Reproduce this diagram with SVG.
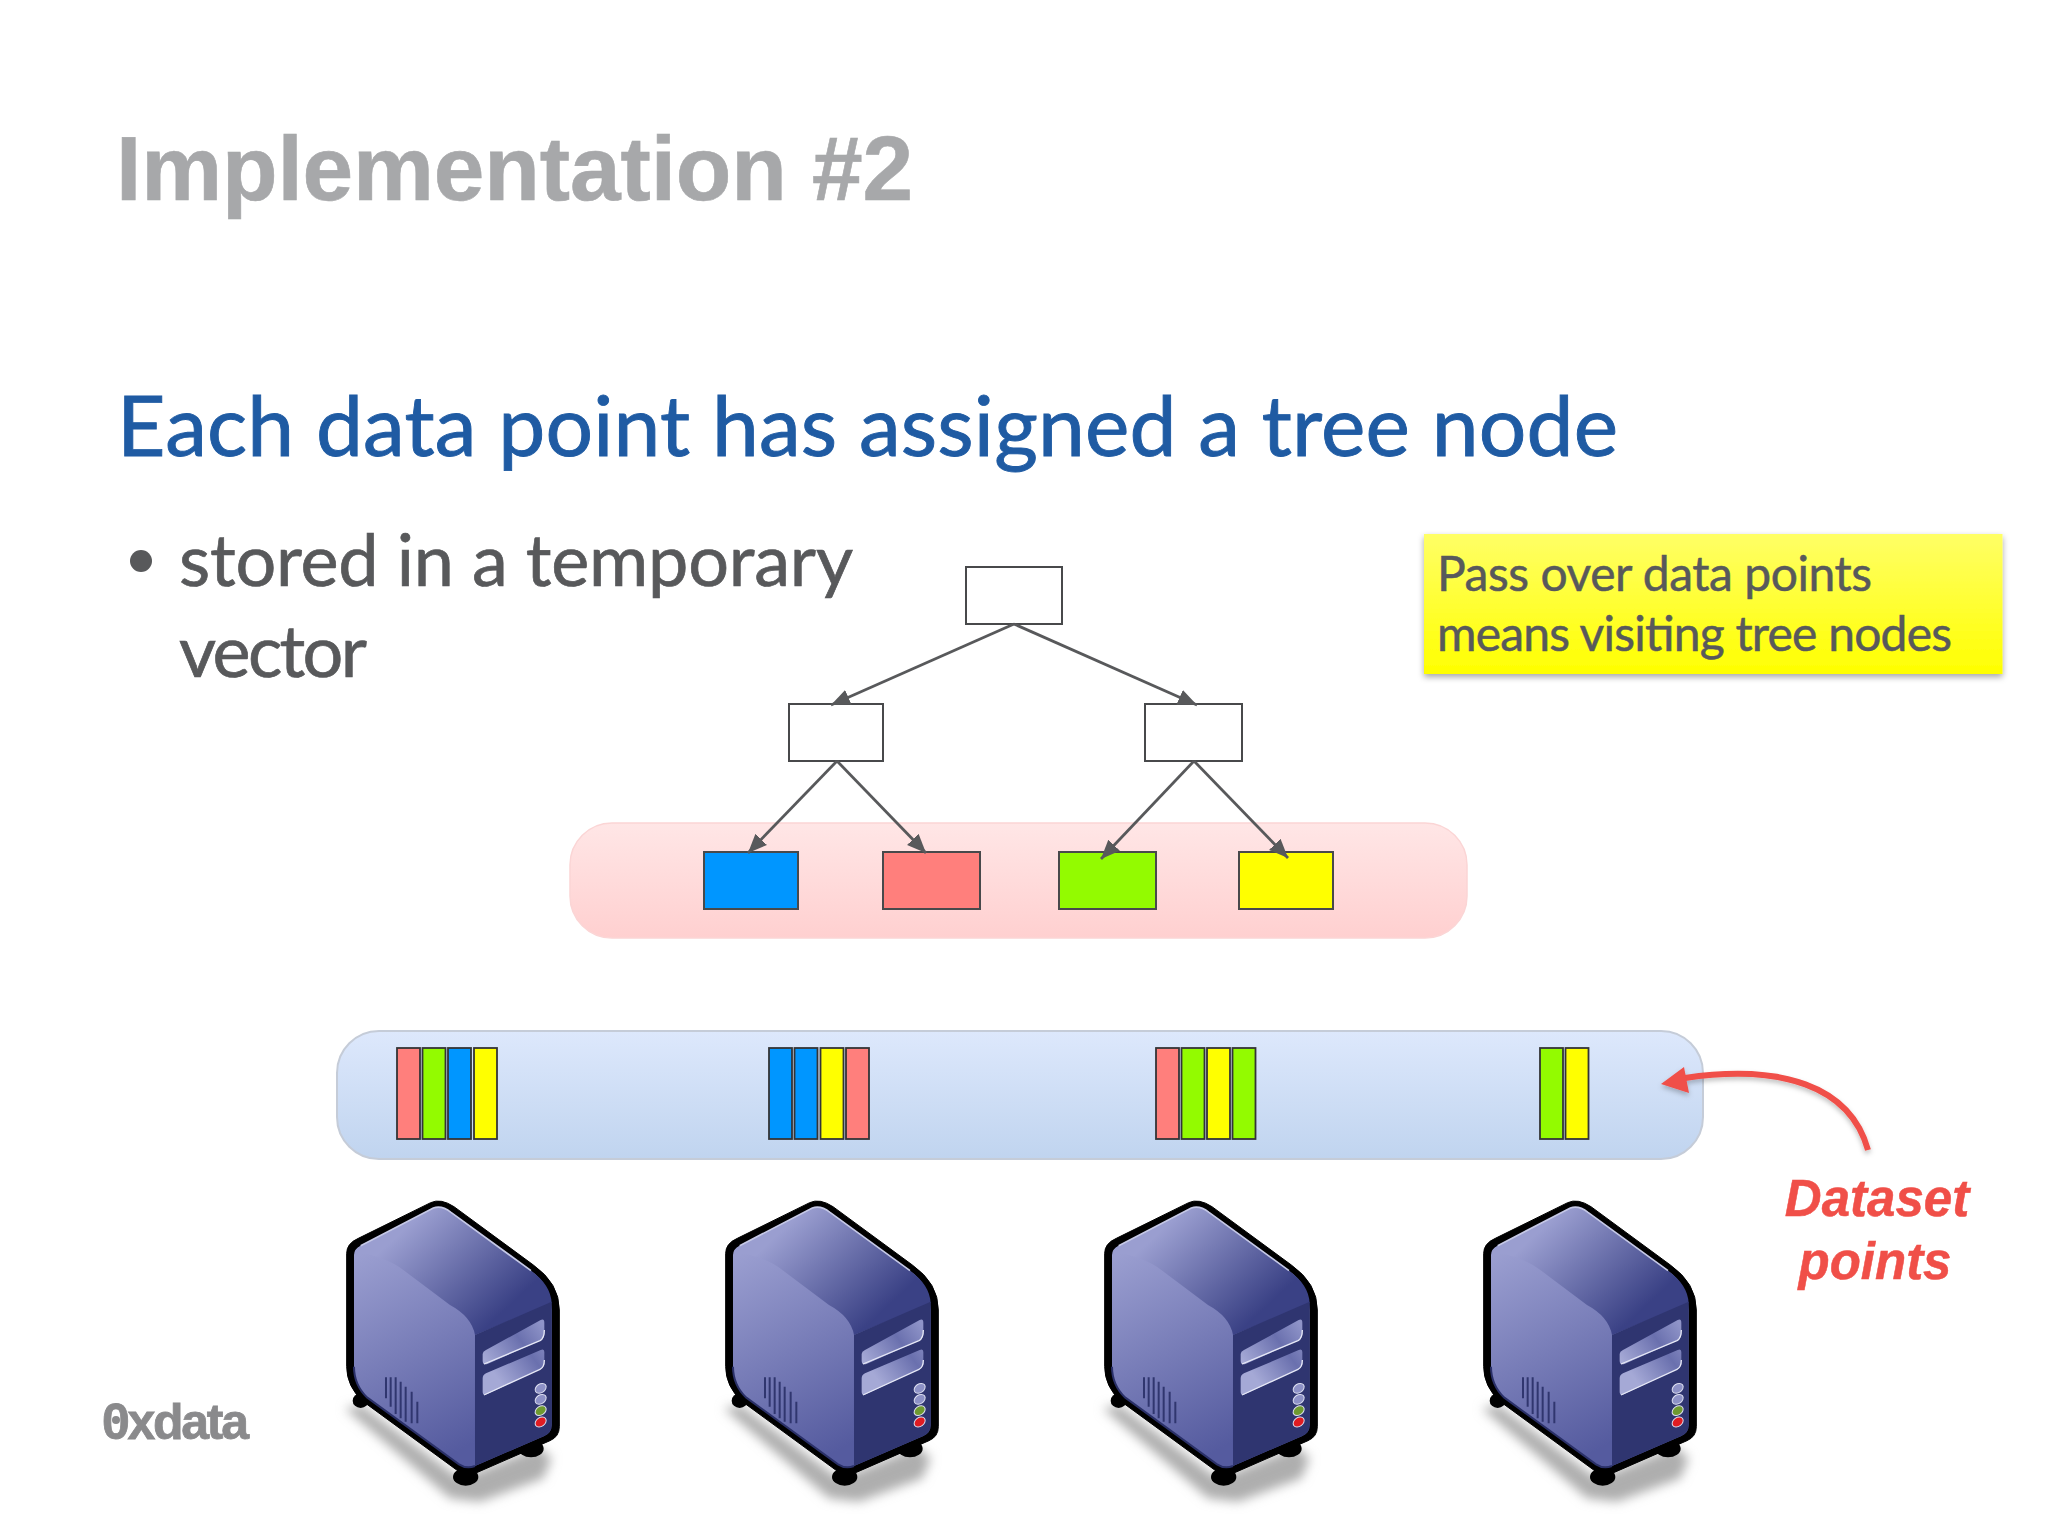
<svg xmlns="http://www.w3.org/2000/svg" xmlns:xlink="http://www.w3.org/1999/xlink" width="2048" height="1536" viewBox="0 0 2048 1536">
<style>
.title{font-family:"Liberation Sans",Arial,sans-serif;font-weight:700;font-size:91px;fill:#a7a8aa;stroke:#a7a8aa;stroke-width:.6}
.fut{font-family:Lato,"Noto Sans",sans-serif}
.head{font-size:84px;fill:#1f5ba3;stroke:#1f5ba3;stroke-width:.9}
.body{font-size:72px;fill:#58595b;stroke:#58595b;stroke-width:.7}
.note{font-size:48px;fill:#58595b;stroke:#58595b;stroke-width:.5}
.red{font-family:"Liberation Sans",Arial,sans-serif;font-weight:700;font-style:italic;font-size:51px;fill:#f04f48;stroke:#f04f48;stroke-width:.5;text-anchor:middle}
.logo{font-family:"Liberation Sans",Arial,sans-serif;font-weight:700;font-size:50px;fill:#8a8a8c;stroke:#8a8a8c;stroke-width:.8}
.box{stroke:#48494b;stroke-width:2}
.bar{stroke:#333436;stroke-width:1.8}
.w{fill:#fff}.b{fill:#0096ff}.r{fill:#ff7f7c}.g{fill:#93fb00}.y{fill:#ffff00}
.edge{stroke:#58595b;stroke-width:2.800;fill:none;marker-end:url(#ah)}
</style>
<defs>
<marker id="ah" markerUnits="userSpaceOnUse" markerWidth="22" markerHeight="20" refX="19" refY="10" orient="auto"><path d="M0 2L19 10L0 18Z" fill="#58595b"/></marker>
<linearGradient id="pink" x1="0" y1="0" x2="0" y2="1"><stop offset="0" stop-color="#ffe6e6"/><stop offset="1" stop-color="#ffd0d0"/></linearGradient>
<linearGradient id="blue" x1="0" y1="0" x2="0" y2="1"><stop offset="0" stop-color="#dde8fc"/><stop offset="1" stop-color="#c0d4ef"/></linearGradient>
<linearGradient id="yel" x1="0" y1="0" x2="0" y2="1"><stop offset="0" stop-color="#ffff66"/><stop offset="1" stop-color="#ffff00"/></linearGradient>
<linearGradient id="sleft" gradientUnits="userSpaceOnUse" x1="170" y1="320" x2="480" y2="900"><stop offset="0" stop-color="#9a9ed0"/><stop offset="1" stop-color="#555b9f"/></linearGradient>
<linearGradient id="stop" gradientUnits="userSpaceOnUse" x1="300" y1="250" x2="560" y2="530"><stop offset="0" stop-color="#9a9ed0"/><stop offset="1" stop-color="#3a4185"/></linearGradient>
<linearGradient id="bay" gradientUnits="userSpaceOnUse" x1="560" y1="640" x2="725" y2="520"><stop offset="0" stop-color="#a5a9d6"/><stop offset="0.6" stop-color="#6a70ae"/><stop offset="1" stop-color="#8f94c8"/></linearGradient>
<filter id="soft" x="-20%" y="-20%" width="140%" height="140%"><feGaussianBlur stdDeviation="16"/></filter>
<filter id="drop" x="-5%" y="-10%" width="110%" height="125%"><feDropShadow dx="0" dy="3" stdDeviation="3" flood-color="#000" flood-opacity="0.35"/></filter>
<filter id="adrop" x="-10%" y="-10%" width="120%" height="130%"><feDropShadow dx="0" dy="3" stdDeviation="2.500" flood-color="#000" flood-opacity="0.25"/></filter>
<g id="server">
<path d="M135 775L185 765L480 985L715 890L755 925L730 985L540 1055L450 1045Z" fill="#aeaeae" filter="url(#soft)"/>
<ellipse cx="182" cy="752" rx="24" ry="22" fill="#000"/>
<ellipse cx="497" cy="981" rx="38" ry="26" fill="#000"/>
<ellipse cx="693" cy="896" rx="38" ry="26" fill="#000"/>
<path d="M392 158Q422 144 462 170L700 345Q778 400 778 480L778 830Q778 860 750 872L530 968Q500 980 470 960L190 755Q140 710 140 650L140 310Q140 280 175 265Z" fill="#000" stroke="#000" stroke-width="3"/>
<path d="M400 174Q425 165 453 187L693 362Q753 405 755 480L755 825Q755 848 733 858L525 948Q500 958 477 943L202 743Q162 705 162 650L162 315Q162 297 182 287Z" fill="url(#sleft)"/>
<path d="M400 174Q425 165 453 187L693 362Q753 405 755 460L525 555Q515 500 450 465L310 360Q260 320 165 305Q170 295 182 287Z" fill="url(#stop)"/>
<path d="M525 555L755 455L755 825Q755 848 733 858L525 948Z" fill="#2f3570"/>
<path d="M182 287L400 174Q425 165 453 187L693 362" fill="none" stroke="#c5c8e6" stroke-width="5"/>
<path d="M162 650Q162 705 202 743L477 943Q500 958 525 948" fill="none" stroke="#2a3068" stroke-width="6"/>
<path d="M558 600L722 510Q733 505 733 518L733 552Q733 565 720 572L562 642Q548 646 548 632L548 612Q548 605 558 600Z" fill="url(#bay)"/>
<path d="M552 642L720 572Q733 565 733 540" fill="none" stroke="#e6e8f6" stroke-width="4"/>
<path d="M558 670L722 600Q733 595 733 606L733 640Q733 652 720 658L560 733Q548 738 548 725L548 685Q548 675 558 670Z" fill="url(#bay)"/>
<path d="M552 735L720 658Q733 652 733 630" fill="none" stroke="#e6e8f6" stroke-width="4"/>
<g stroke="#30366f" stroke-width="6" fill="none"><path d="M258 682V745M272 682V770M287 682V792M302 695V805M317 710V815M335 725V820M352 755V820"/></g>
<g stroke="#dfe1f2" stroke-width="3">
<ellipse cx="722" cy="715" rx="18" ry="13" fill="#8d91c6" transform="rotate(-35 722 715)"/>
<ellipse cx="722" cy="748" rx="18" ry="13" fill="#8d91c6" transform="rotate(-35 722 748)"/>
<ellipse cx="722" cy="782" rx="18" ry="13" fill="#6f9a30" transform="rotate(-35 722 782)"/>
<ellipse cx="722" cy="816" rx="18" ry="13" fill="#e01c22" transform="rotate(-35 722 816)"/>
</g>
</g>
</defs>
<rect width="2048" height="1536" fill="#fff"/>
<g id="slide-title"><text class="title" x="116" y="200" textLength="797">Implementation #2</text></g>
<g id="heading"><text class="fut head" x="117" y="456" textLength="1501">Each data point has assigned a tree node</text></g>
<g id="bullet"><circle cx="141" cy="561" r="11" fill="#58595b"/>
<text class="fut body" x="179" y="586" textLength="674">stored in a temporary</text>
<text class="fut body" x="179" y="677" textLength="188">vector</text></g>
<g id="logo"><text class="logo" x="102" y="1439" textLength="147">0xdata</text><circle cx="116" cy="1420" r="4" fill="#8a8a8c"/></g>

<g id="panel-tree-leaves"><rect x="570" y="823" width="897" height="115" rx="42" ry="42" fill="url(#pink)" stroke="#fbd5d5" stroke-width="1.500"/></g>
<g id="panel-dataset"><rect x="337" y="1031" width="1366" height="128" rx="42" ry="42" fill="url(#blue)" stroke="#c5ccd8" stroke-width="2"/></g>

<g id="node-root"><rect class="box w" x="966" y="567" width="96" height="57"/></g>
<g id="node-left"><rect class="box w" x="789" y="704" width="94" height="57"/></g>
<g id="node-right"><rect class="box w" x="1145" y="704" width="97" height="57"/></g>
<g id="leaf-blue"><rect class="box b" x="704" y="852" width="94" height="57"/></g>
<g id="leaf-red"><rect class="box r" x="883" y="852" width="97" height="57"/></g>
<g id="leaf-green"><rect class="box g" x="1059" y="852" width="97" height="57"/></g>
<g id="leaf-yellow"><rect class="box y" x="1239" y="852" width="94" height="57"/></g>

<g id="connectors">
<line class="edge" x1="1014" y1="624" x2="831" y2="705"/>
<line class="edge" x1="1014" y1="624" x2="1197" y2="705"/>
<line class="edge" x1="837" y1="761" x2="748" y2="853"/>
<line class="edge" x1="837" y1="761" x2="926" y2="853"/>
<line class="edge" x1="1194" y1="761" x2="1101" y2="859"/>
<line class="edge" x1="1194" y1="761" x2="1288" y2="858"/>
</g>

<g id="points-1">
<rect class="bar r" x="397" y="1048" width="23" height="91"/><rect class="bar g" x="422.500" y="1048" width="23" height="91"/><rect class="bar b" x="448" y="1048" width="23" height="91"/><rect class="bar y" x="474" y="1048" width="23" height="91"/>
</g>
<g id="points-2">
<rect class="bar b" x="769" y="1048" width="23" height="91"/><rect class="bar b" x="794.500" y="1048" width="23" height="91"/><rect class="bar y" x="820.500" y="1048" width="23" height="91"/><rect class="bar r" x="846" y="1048" width="23" height="91"/>
</g>
<g id="points-3">
<rect class="bar r" x="1156" y="1048" width="23" height="91"/><rect class="bar g" x="1181.500" y="1048" width="23" height="91"/><rect class="bar y" x="1207" y="1048" width="23" height="91"/><rect class="bar g" x="1232.500" y="1048" width="23" height="91"/>
</g>
<g id="points-4">
<rect class="bar g" x="1540" y="1048" width="23" height="91"/><rect class="bar y" x="1565.500" y="1048" width="23" height="91"/>
</g>

<g id="note"><rect x="1424" y="534" width="578.500" height="140" fill="url(#yel)" filter="url(#drop)"/>
<text class="fut note" x="1437" y="591" textLength="435">Pass over data points</text>
<text class="fut note" x="1437" y="651" textLength="515">means visiting tree nodes</text></g>

<g id="server-1" transform="translate(300 1150) scale(.33333)"><use href="#server"/></g>
<g id="server-2" transform="translate(679 1150) scale(.33333)"><use href="#server"/></g>
<g id="server-3" transform="translate(1058 1150) scale(.33333)"><use href="#server"/></g>
<g id="server-4" transform="translate(1437 1150) scale(.33333)"><use href="#server"/></g>

<g id="callout-arrow" filter="url(#adrop)">
<path d="M1868 1150C1850 1085 1780 1064 1685 1078" fill="none" stroke="#f04f48" stroke-width="6"/>
<path d="M1661 1084L1684 1067L1689 1093Z" fill="#f04f48"/>
</g>
<g id="callout-label"><text class="red" x="1877" y="1216">Dataset</text><text class="red" x="1875" y="1279">points</text></g>
</svg>
